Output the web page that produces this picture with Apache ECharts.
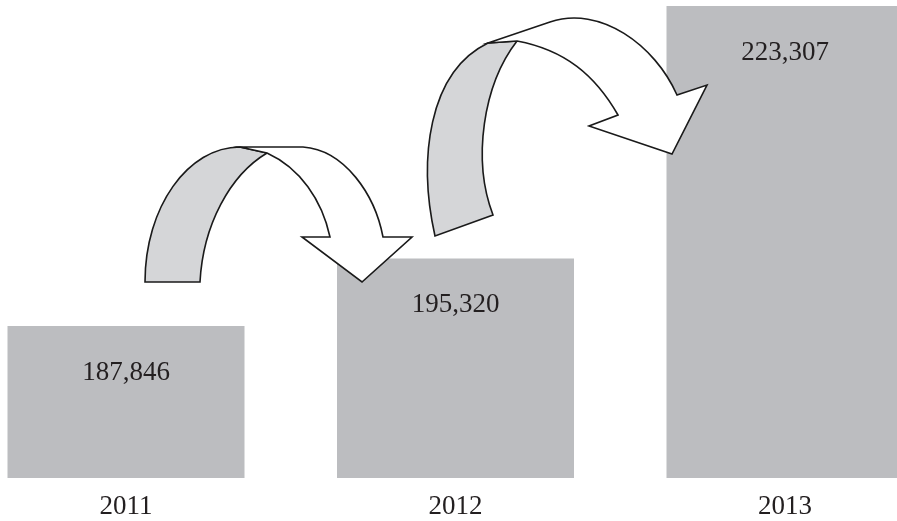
<!DOCTYPE html>
<html>
<head>
<meta charset="utf-8">
<script src="https://cdn.jsdelivr.net/npm/echarts@6/dist/echarts.min.js"></script>
<style>html,body{margin:0;padding:0;background:#fff;}#c{width:897px;height:521px;}</style>
</head>
<body>
<div id="c"></div>
<script>
var categories = ['2011', '2012', '2013'];
var values = [187846, 195320, 223307];
var axisMin = 171000;
var axisMax = 223307;

var chart = echarts.init(document.getElementById('c'), null, {renderer: 'canvas'});
var serif = '"Liberation Serif", "Times New Roman", serif';

var arrowPaths = [
  {d: 'M145,282 C145,207 188,147 240,147 L267,153 C230,175 203,225 200,282 Z', fill: '#d5d6d8'},
  {d: 'M240,147 L303,147 C345,150 375,195 383,237 L412,237 L362,282 L302,237 L330,237 C322,200 300,168 267,153 Z', fill: '#ffffff'},
  {d: 'M435,236 C418,160 428,72 488,43 L517,41 C483,85 472,160 493,215 Z', fill: '#d5d6d8'},
  {d: 'M488,43 L550,22 C600,5 655,45 677,95 L707,85 L672,154 L589,126 L618,115 C595,75 565,50 517,41 Z', fill: '#ffffff'}
];

chart.setOption({
  animation: false,
  backgroundColor: '#ffffff',
  grid: {left: 126, right: 112, top: 6, bottom: 43, containLabel: false},
  xAxis: {
    type: 'category',
    data: categories,
    boundaryGap: false,
    axisLine: {show: false},
    axisTick: {show: false},
    splitLine: {show: false},
    axisLabel: {fontFamily: serif, fontSize: 27, color: '#231f20', margin: 15},
    z: 20
  },
  yAxis: {
    type: 'value',
    min: axisMin,
    max: axisMax,
    show: false,
    splitLine: {show: false}
  },
  series: [{
    type: 'bar',
    stack: 'total',
    silent: true,
    data: values.map(function () { return axisMin; }),
    barWidth: 237,
    clip: false,
    itemStyle: {color: 'rgba(0,0,0,0)'},
    z: 1
  }, {
    type: 'bar',
    stack: 'total',
    data: values.map(function (v) { return v - axisMin; }),
    barWidth: 237,
    clip: false,
    itemStyle: {color: '#bcbdc0'},
    label: {
      show: true,
      position: 'insideTop',
      distance: 33,
      fontFamily: serif,
      fontSize: 27,
      color: '#231f20',
      formatter: function (p) { return values[p.dataIndex].toLocaleString('en-US'); }
    },
    z: 2
  }, {
    type: 'custom',
    coordinateSystem: 'none',
    silent: true,
    z: 10,
    data: [0],
    renderItem: function () {
      return {
        type: 'group',
        children: arrowPaths.map(function (p) {
          return {
            type: 'path',
            shape: {pathData: p.d},
            style: {fill: p.fill, stroke: '#1a1a1a', lineWidth: 1.6, lineJoin: 'miter'}
          };
        })
      };
    }
  }]
});
</script>
</body>
</html>
